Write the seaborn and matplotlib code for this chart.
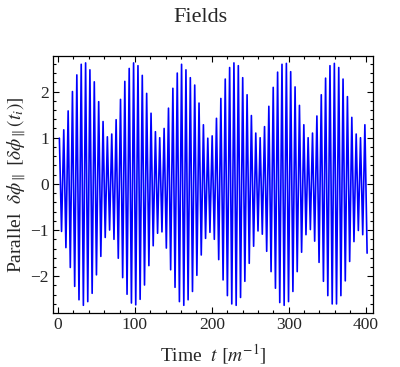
import numpy as np
import pandas as pd
import seaborn as sns
import matplotlib.pyplot as plt
from matplotlib.ticker import MultipleLocator

# extrema of the oscillation (time, value)
t_ext = [1.8, 4.6, 7.5, 10.3, 13.2, 16.0, 18.8, 21.7, 24.5, 27.3,
         30.2, 33.0, 35.9, 38.7, 41.5, 44.4, 47.2, 50.0, 52.9, 55.7,
         58.6, 61.4, 64.2, 67.1, 69.9, 72.8, 75.6, 78.4, 81.3, 84.1,
         86.9, 89.8, 92.6, 95.5, 98.3, 101.1, 104.0, 106.8, 109.6, 112.5,
         115.3, 118.2, 121.0, 123.8, 126.7, 129.5, 132.3, 135.2, 138.0, 140.9,
         143.7, 146.5, 149.4, 152.2, 155.1, 157.9, 160.7, 163.6, 166.4, 169.2,
         172.1, 174.9, 177.8, 180.6, 183.4, 186.3, 189.1, 191.9, 194.8, 197.6,
         200.5, 203.3, 206.1, 209.0, 211.8, 214.7, 217.5, 220.3, 223.2, 226.0,
         228.8, 231.7, 234.5, 237.4, 240.2, 243.0, 245.9, 248.7, 251.5, 254.4,
         257.2, 260.1, 262.9, 265.7, 268.6, 271.4, 274.2, 277.1, 279.9, 282.8,
         285.6, 288.4, 291.3, 294.1, 297.0, 299.8, 302.6, 305.5, 308.3, 311.1,
         314.0, 316.8, 319.7, 322.5, 325.3, 328.2, 331.0, 333.8, 336.7, 339.5,
         342.4, 345.2, 348.0, 350.9, 353.7, 356.6, 359.4, 362.2, 365.1, 367.9,
         370.7, 373.6, 376.4, 379.3, 382.1, 384.9, 387.8, 390.6, 393.4, 396.3,
         399.1, 402.0]

v_ext = [0.99, -1.03, 1.17, -1.38, 1.58, -1.81, 2.0, -2.22, 2.36, -2.51,
         2.59, -2.63, 2.62, -2.55, 2.47, -2.37, 2.21, -1.97, 1.78, -1.57,
         1.35, -1.16,
         1.02, -1.0, 1.08, -1.2, 1.39, -1.61, 1.83, -2.03, 2.22, -2.39,
         2.5, -2.58, 2.62, -2.62, 2.56, -2.5, 2.35, -2.19, 1.96, -1.77,
         1.53, -1.34, 1.13, -1.07, 1.0, -1.04, 1.2,
         -1.39, 1.64, -1.86, 2.07, -2.24, 2.4, -2.55, 2.59, -2.63, 2.47,
         -2.51, 2.3, -2.33, 2.14, -1.98, 1.75, -1.54, 1.28, -1.18, 0.99,
         -1.05, 1.04, -1.2, 1.42, -1.64,
         1.85, -2.08, 2.27, -2.42, 2.52, -2.6, 2.62, -2.63, 2.56, -2.46,
         2.3, -2.11, 1.93, -1.72, 1.48, -1.35, 1.1, -1.02, 1.0, -1.09,
         1.24, -1.46, 1.68, -1.9, 2.09, -2.26,
         2.42, -2.57, 2.59, -2.63, 2.61, -2.55, 2.43, -2.33, 2.1, -1.9,
         1.7, -1.48, 1.28, -1.1, 1.0, -0.99, 1.1, -1.24, 1.47, -1.7,
         1.93, -2.11, 2.29, -2.42,
         2.56, -2.6, 2.61, -2.6, 2.52, -2.42, 2.27, -2.1, 1.89, -1.68,
         1.44, -1.25, 1.08, -1.01, 1.0, -1.1, 1.28, -1.5]

df = pd.DataFrame({'t': t_ext, 'phi': v_ext})

sns.set_style('ticks')
plt.rcParams['font.family'] = ['Liberation Serif', 'DejaVu Serif']
plt.rcParams['mathtext.fontset'] = 'stix'

fig = plt.figure(figsize=(4, 3.67), dpi=100)
ax = fig.add_axes([0.1325, 0.148, 0.7995, 0.6994])

sns.lineplot(data=df, x='t', y='phi', ax=ax, color='#0000ff', lw=1.2,
             estimator=None, sort=False)

ax.set_xlim(-6.5, 409.4)
ax.set_ylim(-2.79, 2.77)
ax.xaxis.set_major_locator(MultipleLocator(100))
ax.xaxis.set_minor_locator(MultipleLocator(20))
ax.yaxis.set_major_locator(MultipleLocator(1))
ax.yaxis.set_minor_locator(MultipleLocator(0.2))
ax.tick_params(which='both', direction='in', top=True, right=True,
               color='black', width=0.8, labelsize=12.5, pad=3)
ax.tick_params(which='major', length=4.5)
ax.tick_params(which='minor', length=2.5)
for s in ax.spines.values():
    s.set_color('black')
    s.set_linewidth(0.9)

ax.set_xlabel(r'Time  $t\ [m^{-1}]$', fontsize=14, labelpad=7)
ax.set_ylabel(r'Parallel  $\delta\phi_{\parallel}\ [\delta\phi_{\parallel}(t_i)]$',
              fontsize=14, labelpad=2)
fig.suptitle('Fields', fontsize=16, y=0.978)

fig.savefig('out.png', dpi=100, facecolor='white')
